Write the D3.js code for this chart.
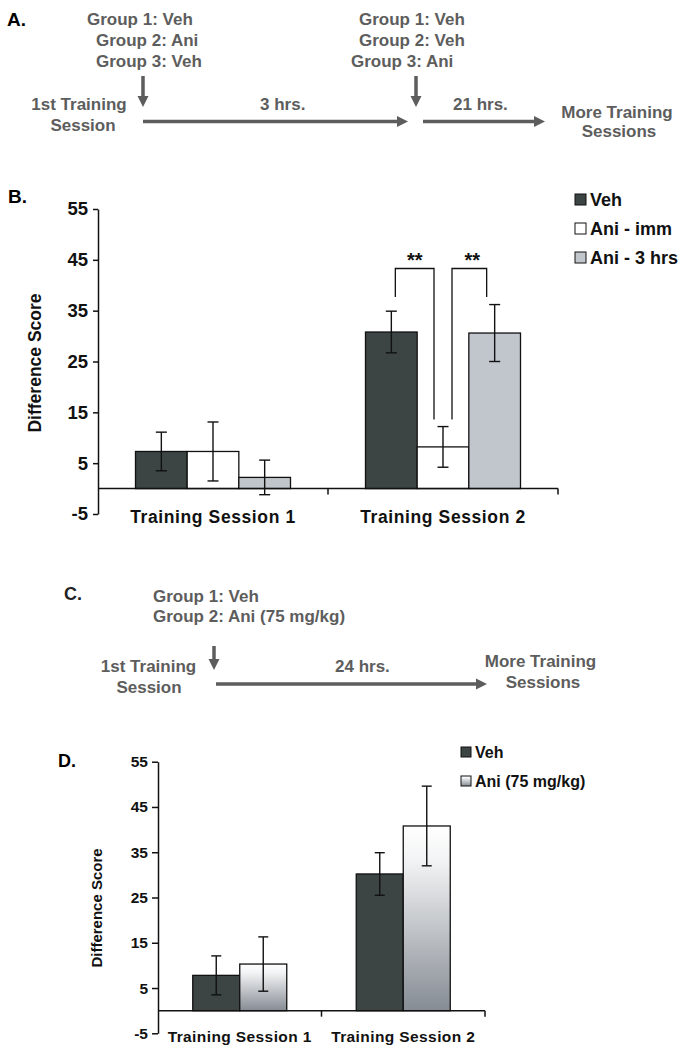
<!DOCTYPE html>
<html>
<head>
<meta charset="utf-8">
<script src="https://cdn.jsdelivr.net/npm/d3@7"></script>
<style>
  html, body { margin: 0; padding: 0; background: #fff; }
  svg { display: block; font-family: "Liberation Sans", Arial, Helvetica, sans-serif; }
</style>
</head>
<body>
<svg id="fig" width="687" height="1054"></svg>
<script>
// ---------------- DATA ----------------
const sessions = ["Training Session 1", "Training Session 2"];
const yTicks = [-5, 5, 15, 25, 35, 45, 55];

// Panel B
const seriesB = ["Veh", "Ani - imm", "Ani - 3 hrs"];
const bVeh = [7.3, 30.8];
const bVehErr = [3.8, 4.1];
const bAniImm = [7.3, 8.2];
const bAniImmErr = [5.8, 4.0];
const bAni3 = [2.2, 30.6];
const bAni3Err = [3.4, 5.6];
const sigLabels = ["**", "**"];

// Panel D
const seriesD = ["Veh", "Ani (75 mg/kg)"];
const dVeh = [7.8, 30.2];
const dVehErr = [4.3, 4.7];
const dAni = [10.3, 40.8];
const dAniErr = [6.0, 8.8];

// Timeline texts
const aLeftGroups = ["Group 1: Veh", "Group 2: Ani", "Group 3: Veh"];
const aRightGroups = ["Group 1: Veh", "Group 2: Veh", "Group 3: Ani"];
const cGroups = ["Group 1: Veh", "Group 2: Ani (75 mg/kg)"];
const startLabel = ["1st Training", "Session"];
const endLabel = ["More Training", "Sessions"];
const aIntervals = ["3 hrs.", "21 hrs."];
const cIntervals = ["24 hrs."];

// ---------------- DRAW ----------------
const svg = d3.select("#fig");
const gray = "#5d5d5d";
const dark = "#3c4444";
const lightGray = "#c1c5cc";

const defs = svg.append("defs");
const grad = defs.append("linearGradient").attr("id", "aniGrad")
  .attr("x1", 0).attr("y1", 0).attr("x2", 0).attr("y2", 1);
grad.append("stop").attr("offset", "0%").attr("stop-color", "#ffffff");
grad.append("stop").attr("offset", "18%").attr("stop-color", "#f3f4f5");
grad.append("stop").attr("offset", "100%").attr("stop-color", "#868c94");

// arrowheads
function arrowH(g, x1, x2, y) {
  g.append("line").attr("x1", x1).attr("x2", x2 - 9).attr("y1", y).attr("y2", y)
    .attr("stroke", gray).attr("stroke-width", 3.5);
  g.append("path").attr("d", `M${x2},${y} L${x2 - 11},${y - 5.5} L${x2 - 11},${y + 5.5} Z`).attr("fill", gray);
}
function arrowV(g, x, y1, y2) {
  g.append("line").attr("x1", x).attr("x2", x).attr("y1", y1).attr("y2", y2 - 9)
    .attr("stroke", gray).attr("stroke-width", 3.5);
  g.append("path").attr("d", `M${x},${y2} L${x - 5.5},${y2 - 11} L${x + 5.5},${y2 - 11} Z`).attr("fill", gray);
}
function tText(g, txt, x, y, anchor) {
  return g.append("text").attr("x", x).attr("y", y).attr("text-anchor", anchor || "start")
    .attr("font-size", 17).attr("font-weight", "bold").attr("fill", gray).text(txt);
}

// ---- Panel A ----
const gA = svg.append("g");
gA.append("text").attr("x", 7).attr("y", 26).attr("font-size", 19).attr("font-weight", "bold").text("A.");
const aLeftX = [87, 96, 96], aRightX = [359, 359, 351], aBase = [25, 45.7, 66.7];
aLeftGroups.forEach((t, i) => tText(gA, t, aLeftX[i], aBase[i]));
aRightGroups.forEach((t, i) => tText(gA, t, aRightX[i], aBase[i]));
arrowV(gA, 143, 76, 107);
arrowV(gA, 416, 76, 107);
tText(gA, startLabel[0], 79, 110, "middle");
tText(gA, startLabel[1], 83, 131, "middle");
arrowH(gA, 143, 408, 121.5);
arrowH(gA, 423, 545, 121.5);
tText(gA, aIntervals[0], 260, 110);
tText(gA, aIntervals[1], 453, 110);
tText(gA, endLabel[0], 617, 117.5, "middle");
tText(gA, endLabel[1], 619, 137, "middle");

// ---- Panel C ----
const gC = svg.append("g");
gC.append("text").attr("x", 64).attr("y", 600).attr("font-size", 18).attr("font-weight", "bold").attr("fill", "#222").text("C.");
cGroups.forEach((t, i) => tText(gC, t, 153, 601.7 + i * 20));
arrowV(gC, 214, 646, 670);
tText(gC, startLabel[0], 148.5, 671.7, "middle");
tText(gC, startLabel[1], 149, 693.3, "middle");
arrowH(gC, 216, 487, 684);
tText(gC, cIntervals[0], 335, 671.7);
tText(gC, endLabel[0], 540.5, 667.3, "middle");
tText(gC, endLabel[1], 543, 688, "middle");

// ---------------- bar chart helper ----------------
function barChart(opts) {
  const g = svg.append("g");
  const y = d3.scaleLinear().domain([-5, 55]).range([opts.yBottom, opts.yTop]);
  const x0 = d3.scaleBand().domain(sessions).range([opts.xLeft, opts.xRight]);
  const half = opts.groupWidth / 2;
  const x1 = d3.scaleBand().domain(opts.series)
    .range([x0.bandwidth() / 2 - half, x0.bandwidth() / 2 + half]);

  // panel letter
  g.append("text").attr("x", opts.letterX).attr("y", opts.letterY)
    .attr("font-size", opts.letterSize).attr("font-weight", "bold").text(opts.letter);

  // y axis
  const yAxis = d3.axisLeft(y).tickValues(yTicks).tickFormat(d => String(d))
    .tickSize(opts.tickSize).tickSizeOuter(0).tickPadding(opts.tickPad);
  const ya = g.append("g").attr("transform", `translate(${opts.xLeft},0)`).call(yAxis);
  ya.select(".domain").attr("stroke", "#111").attr("stroke-width", 1.5);
  ya.selectAll(".tick line").attr("stroke", "#111").attr("stroke-width", 1.5);
  ya.selectAll(".tick text").attr("font-size", opts.tickFont).attr("font-weight", "bold")
    .attr("fill", "#111").attr("font-family", "Liberation Sans, Arial, sans-serif");

  // y label
  g.append("text").attr("transform", `translate(${opts.yLabelX},${opts.yLabelY}) rotate(-90)`)
    .attr("text-anchor", "middle").attr("font-size", opts.yLabelFont).attr("font-weight", "bold")
    .attr("fill", "#111").text("Difference Score");

  // bars
  const rows = [];
  sessions.forEach((s, i) => {
    opts.series.forEach((ser, k) => {
      rows.push({ s, ser, k, v: opts.values[k][i], e: opts.errors[k][i] });
    });
  });
  g.selectAll("rect.bar").data(rows).join("rect").attr("class", "bar")
    .attr("x", d => x0(d.s) + x1(d.ser))
    .attr("width", x1.bandwidth())
    .attr("y", d => y(Math.max(0, d.v)))
    .attr("height", d => Math.abs(y(d.v) - y(0)))
    .attr("fill", d => opts.fills[d.k])
    .attr("stroke", "#111").attr("stroke-width", 1.3);

  // x axis line at 0
  g.append("line").attr("x1", opts.xLeft).attr("x2", opts.xRight).attr("y1", y(0)).attr("y2", y(0))
    .attr("stroke", "#111").attr("stroke-width", 1.5);
  g.selectAll("line.xtick").data(sessions).join("line").attr("class", "xtick")
    .attr("x1", d => x0(d) + x0.step()).attr("x2", d => x0(d) + x0.step())
    .attr("y1", y(0)).attr("y2", y(0) + 6).attr("stroke", "#111").attr("stroke-width", 1.5);
  g.selectAll("text.xlab").data(sessions).join("text").attr("class", "xlab")
    .attr("x", d => x0(d) + x0.bandwidth() / 2).attr("y", opts.xLabelY)
    .attr("text-anchor", "middle").attr("font-size", opts.xLabelFont).attr("font-weight", "bold")
    .attr("letter-spacing", opts.xLabelSpacing).attr("fill", "#111").text(d => d);

  // error bars
  const cx = d => x0(d.s) + x1(d.ser) + x1.bandwidth() / 2;
  const eg = g.selectAll("g.err").data(rows).join("g").attr("class", "err")
    .attr("stroke", "#111").attr("stroke-width", 1.4);
  eg.append("line").attr("x1", cx).attr("x2", cx).attr("y1", d => y(d.v + d.e)).attr("y2", d => y(d.v - d.e));
  eg.append("line").attr("x1", d => cx(d) - opts.cap).attr("x2", d => cx(d) + opts.cap)
    .attr("y1", d => y(d.v + d.e)).attr("y2", d => y(d.v + d.e));
  eg.append("line").attr("x1", d => cx(d) - opts.cap).attr("x2", d => cx(d) + opts.cap)
    .attr("y1", d => y(d.v - d.e)).attr("y2", d => y(d.v - d.e));

  // legend
  const lg = g.selectAll("g.leg").data(opts.series).join("g").attr("class", "leg")
    .attr("transform", (d, i) => `translate(${opts.legX},${opts.legY + i * opts.legStep})`);
  lg.append("rect").attr("x", 0).attr("y", -opts.legBox - 1).attr("width", opts.legBox).attr("height", opts.legBox)
    .attr("fill", (d, i) => opts.fills[i]).attr("stroke", "#111").attr("stroke-width", 1);
  lg.append("text").attr("x", opts.legBox + 4).attr("y", 0).attr("font-size", opts.legFont)
    .attr("font-weight", "bold").attr("fill", "#111").text(d => d);

  return { g, y, x0, x1 };
}

// ---- Panel B ----
const B = barChart({
  letter: "B.", letterX: 8, letterY: 203, letterSize: 19,
  xLeft: 98, xRight: 558, yTop: 209, yBottom: 514, groupWidth: 155,
  series: seriesB, values: [bVeh, bAniImm, bAni3], errors: [bVehErr, bAniImmErr, bAni3Err],
  fills: [dark, "#ffffff", lightGray],
  tickSize: 5, tickPad: 5, tickFont: 18.5,
  yLabelX: 41, yLabelY: 363, yLabelFont: 17.5,
  xLabelY: 523, xLabelFont: 17.5, xLabelSpacing: 0.6,
  cap: 5.5,
  legX: 575, legY: 206, legStep: 29, legBox: 11, legFont: 18
});

// significance brackets (Training Session 2)
(function () {
  const { g, y, x0, x1 } = B;
  const s = sessions[1];
  const c = k => x0(s) + x1(seriesB[k]) + x1.bandwidth() / 2;
  const brackets = [
    { xa: c(0) + 4, xb: c(1) - 9, ya: 37.7, yb: 13.6, top: 43.3 },
    { xa: c(1) + 9, xb: c(2) - 8, ya: 13.6, yb: 37.7, top: 43.3 }
  ];
  brackets.forEach((b, i) => {
    g.append("path")
      .attr("d", `M${b.xa},${y(b.ya)} L${b.xa},${y(b.top)} L${b.xb},${y(b.top)} L${b.xb},${y(b.yb)}`)
      .attr("fill", "none").attr("stroke", "#111").attr("stroke-width", 1.3);
    g.append("text").attr("x", (b.xa + b.xb) / 2 + (i === 1 ? 3 : 0)).attr("y", y(b.top) - 1)
      .attr("text-anchor", "middle").attr("font-size", 20).attr("font-weight", "bold")
      .attr("fill", "#111").text(sigLabels[i]);
  });
})();

// ---- Panel D ----
barChart({
  letter: "D.", letterX: 58, letterY: 767, letterSize: 18,
  xLeft: 158, xRight: 485, yTop: 761.7, yBottom: 1033.3, groupWidth: 94,
  series: seriesD, values: [dVeh, dAni], errors: [dVehErr, dAniErr],
  fills: [dark, "url(#aniGrad)"],
  tickSize: 6, tickPad: 4, tickFont: 15.5,
  yLabelX: 102, yLabelY: 908, yLabelFont: 15,
  xLabelY: 1042, xLabelFont: 15.5, xLabelSpacing: 0.4,
  cap: 5,
  legX: 461, legY: 758, legStep: 29, legBox: 10, legFont: 16
});
</script>
</body>
</html>
